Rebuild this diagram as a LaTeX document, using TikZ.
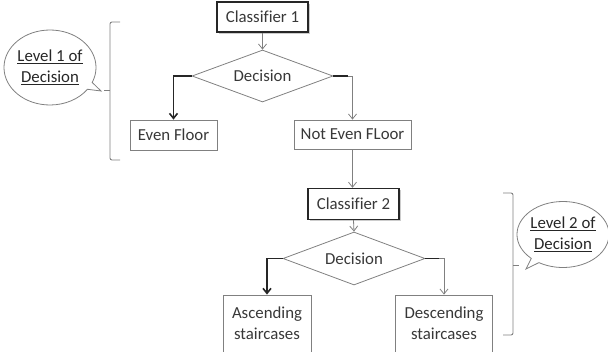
\documentclass[tikz,border=0pt]{standalone}
\usepackage{fontspec}
\setmainfont{Carlito}[Ligatures=NoCommon]
\usetikzlibrary{shapes.geometric,shapes.callouts,arrows.meta,shadows}

\definecolor{txt}{HTML}{383838}
\definecolor{edge}{HTML}{808080}
\definecolor{dark}{HTML}{262626}

\begin{document}
\begin{tikzpicture}[x=1pt,y=-1pt,
  font=\fontsize{16.8}{21}\selectfont, text=txt,
  box/.style={draw=edge, line width=0.8pt, rectangle, inner sep=0pt, align=center, fill=white},
  clsbox/.style={draw=dark, line width=1.4pt, rectangle, inner sep=0pt, fill=white,
    drop shadow={shadow xshift=1.5pt, shadow yshift=-1.5pt, fill=black!40, opacity=0.5}},
  dec/.style={draw=edge, line width=0.8pt, diamond, inner sep=0pt, aspect=2.7},
  thinarrow/.style={draw=edge, line width=0.8pt, -{Straight Barb[length=5pt,width=8pt]}},
  thickarrow/.style={draw=dark, line width=1.6pt, -{Straight Barb[length=5pt,width=8pt]}},
  bracket/.style={draw=edge, line width=0.9pt, rounded corners=2pt},
  bubble/.style={ellipse callout, draw=edge, line width=0.8pt, inner sep=0pt, align=center, callout pointer arc=12, text=dark}
]
\useasboundingbox (0,0) rectangle (608,351);
\clip (0,0) rectangle (608,351);

\node[clsbox, minimum width=91pt, minimum height=30pt] (c1) at (262.5,17) {Classifier 1};
\node[dec, minimum width=141pt, minimum height=52pt] (d1) at (262.5,76) {Decision};
\node[box, minimum width=87pt, minimum height=30pt] (ef) at (173.5,135) {Even Floor};
\node[box, minimum width=117pt, minimum height=29pt] (nef) at (352.5,134.5) {Not Even FLoor};
\node[clsbox, minimum width=91pt, minimum height=31pt] (c2) at (353.5,204) {Classifier 2};
\node[dec, minimum width=142pt, minimum height=53pt] (d2) at (354,258.5) {Decision};
\node[box, minimum width=88pt, minimum height=57pt] (asc) at (267,323.5) {Ascending\\staircases};
\node[box, minimum width=97pt, minimum height=57pt] (desc) at (444,323.5) {Descending\\staircases};

\draw[thinarrow] (c1.south) -- (d1.north);
\draw[thickarrow] (d1.west) -| (ef.north);
\draw[thinarrow] (d1.east) -| (nef.north);
\draw[draw=dark, line width=1.6pt] (d1.east) -- ++(15,0);
\draw[thinarrow] (nef.south) -- (nef.south |- c2.north);
\draw[thinarrow] (c2.south) -- (d2.north);
\draw[thickarrow] (d2.west) -| (asc.north);
\draw[thinarrow] (d2.east) -| (desc.north);
\draw[draw=dark, line width=1.6pt] (d2.east) -- ++(14,0);

\draw[bracket] (120,22) -- (110,22) -- (110,160) -- (120,160);
\draw[bracket] (110,90) -- (104,90);
\draw[bracket] (503,193) -- (513,193) -- (513,335) -- (503,335);
\draw[bracket] (513,265) -- (519,265);

\coordinate (p1) at (101,91);
\coordinate (p2) at (526,269);
\node[bubble, minimum width=90pt, minimum height=75pt, callout absolute pointer={(p1)}] (l1) at (50,67.5) {\underline{Level 1 of}\\\underline{Decision}};
\node[bubble, minimum width=92pt, minimum height=66pt, callout absolute pointer={(p2)}] (l2) at (563,234.5) {\underline{Level 2 of}\\\underline{Decision}};
\end{tikzpicture}
\end{document}
